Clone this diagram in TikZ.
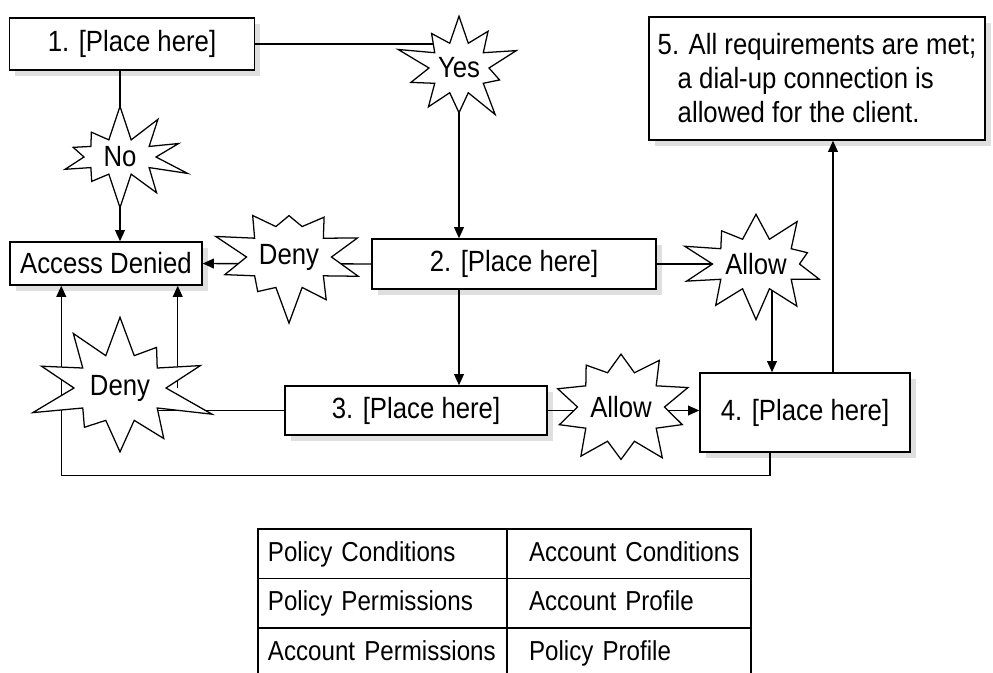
\documentclass[tikz,border=0pt]{standalone}
\usepackage{fontspec}
\setmainfont{Liberation Sans}[FakeStretch=0.88]
\usetikzlibrary{calc,matrix,shapes.symbols,shadows,arrows.meta}

\tikzset{
	box/.style={draw, fill=white, line width=1pt, drop shadow={shadow xshift=4pt, shadow yshift=-4pt, fill=black!25}},
	burst/.style={draw, fill=white, line width=0.9pt, starburst, starburst points=10, starburst point height=0.9cm, inner sep=0pt},
	link/.style={line width=1pt},
	arr/.style={line width=1pt, -{Triangle[width=7pt,length=8pt]}},
}

\begin{document}
\begin{tikzpicture}[x=0.025cm, y=-0.025cm, font=\fontsize{20.8}{24.2}\selectfont]
	\useasboundingbox (0,0) rectangle (993,672);
	\clip (0,0) rectangle (993,672);
	%%%%% START %%%%%
	\node[box, minimum width=6.125cm, minimum height=1.3cm] (b1) at (132, 44) {1. [Place here]};
	\node[box, minimum width=8.4cm, minimum height=3.075cm, align=left] (b5) at (817, 78.5)
		{5. All requirements are met;\\\hspace*{0.5cm}a dial-up connection is\\\hspace*{0.5cm}allowed for the client.};
	\node[box, minimum width=4.8cm, minimum height=1.075cm] (ad) at (106, 263.5) {Access Denied};
	\node[box, minimum width=7.1cm, minimum height=1.25cm] (b2) at (514, 264) {2. [Place here]};
	\node[box, minimum width=6.55cm, minimum height=1.225cm] (b3) at (416, 410.5) {3. [Place here]};
	\node[box, minimum width=5.25cm, minimum height=1.975cm] (b4) at (805, 412.5) {4. [Place here]};
	
	\coordinate (yes) at (459, 68);
	\coordinate (no) at (120, 157);
	\coordinate (deny) at (289, 257);
	\coordinate (allow) at (756, 264);
	\coordinate (allowlow) at (621, 407);
	\coordinate (denylow) at (120, 388);
	
	\draw[link] (b1.east) -- (b1.east -| yes);
	\draw[arr] (yes) -- (yes |- b2.north);
	\draw[arr] (no |- b1.south) -- (no |- ad.north);
	\draw[arr] (b2.west) -- (ad.east);
	\draw[arr] (b2.south -| yes) -- (yes |- b3.north);
	\draw[arr] (b2.east) -| ($(b4.north)+(-33,0)$);
	\draw[arr] (b3.east) -- (b3.east -| b4.west);
	\draw[link] (b3.west) -- (b3.west -| denylow);
	\coordinate (up) at ($(b4.north)+(28,0)$);
	\draw[arr] (up) -- (up |- b5.south);
	\coordinate (dn) at ($(ad.south east)+(-25,0)$);
	\draw[arr] (dn |- denylow) -- (dn);
	\draw[arr] ($(b4.south)+(-35,0)$) -- ++(0,23) -| ($(ad.south west)+(52,0)$);
	
	\node[burst, minimum width=3.3cm, minimum height=3.1cm] (yesb) at (yes) {Yes};
	\node[burst, minimum width=3.6cm, minimum height=2.7cm, random starburst=7] (nob) at (no) {No};
	\node[burst, minimum width=3.1cm, minimum height=3.4cm, random starburst=23] (denyb) at (deny) {Deny};
	\node[burst, minimum width=3.4cm, minimum height=3.1cm, random starburst=41] (allowb) at (allow) {Allow};
	\node[burst, minimum width=2.7cm, minimum height=3.6cm, random starburst=55] (allowlowb) at (allowlow) {Allow};
	\node[burst, minimum width=4.9cm, minimum height=4.3cm, starburst point height=1.3cm, random starburst=77] (denylowb) at (denylow) {Deny};
	
	\matrix[matrix of nodes, inner sep=0pt, anchor=north west, row sep=-1pt, column sep=-1pt,
		nodes={draw, line width=1pt, anchor=center, minimum height=1.2375cm, inner ysep=0pt, text height=15pt, text depth=4pt, align=left, font=\fontsize{19.5}{22}\selectfont},
		column 1/.style={nodes={text width=6.025cm, inner xsep=0.1cm, execute at begin node=\hspace*{0.15cm}}},
		column 2/.style={nodes={text width=5.9cm, inner xsep=0.1cm, execute at begin node=\hspace*{0.45cm}}}] (tab) at (257, 528) {
		Policy Conditions & Account Conditions \\
		Policy Permissions & Account Profile \\
		Account Permissions & Policy Profile \\
	};
	%%%%% END %%%%%
\end{tikzpicture}
\end{document}
